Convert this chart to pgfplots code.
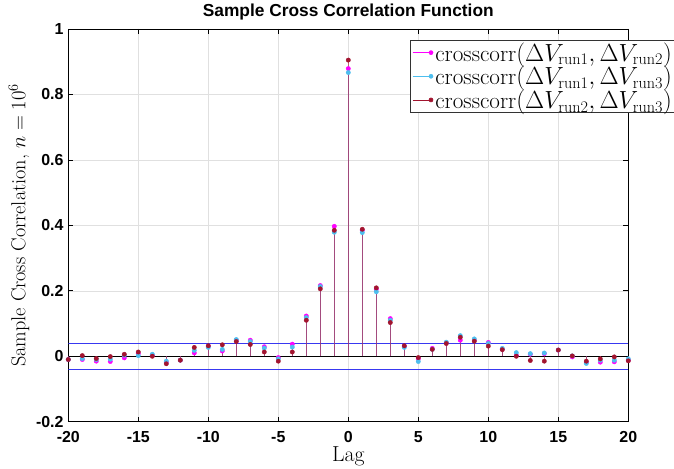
\documentclass[border=0pt]{standalone}
\usepackage{pgfplots}
\pgfplotsset{compat=1.18}
\usepackage{pgfplotstable}
\usepackage{fontspec}
\newfontfamily\hv{Liberation Sans}
\definecolor{mcol}{RGB}{255,0,255}
\definecolor{ccol}{RGB}{77,190,238}
\definecolor{dcol}{RGB}{162,20,47}
\definecolor{bndblue}{RGB}{45,45,240}

\pgfplotstableread{
lag m c d
-20 -0.010 -0.010 -0.010
-19 -0.010 -0.007 0.002
-18 -0.015 -0.010 -0.007
-17 -0.016 -0.009 -0.001
-16 -0.005 0.003 0.006
-15 0.008 0.002 0.013
-14 0.003 0.006 0.000
-13 -0.018 -0.015 -0.023
-12 -0.012 -0.012 -0.012
-11 0.010 0.018 0.027
-10 0.030 0.027 0.032
-9 0.016 0.021 0.035
-8 0.049 0.051 0.045
-7 0.049 0.045 0.036
-6 0.029 0.025 0.013
-5 -0.004 -0.008 -0.015
-4 0.037 0.028 0.013
-3 0.123 0.118 0.110
-2 0.216 0.213 0.206
-1 0.397 0.379 0.385
0 0.879 0.867 0.905
1 0.385 0.378 0.388
2 0.205 0.197 0.209
3 0.115 0.110 0.103
4 0.030 0.027 0.032
5 -0.008 -0.016 -0.004
6 0.024 0.021 0.021
7 0.041 0.043 0.039
8 0.049 0.063 0.058
9 0.049 0.053 0.046
10 0.042 0.039 0.031
11 0.022 0.024 0.020
12 0.003 0.011 0.000
13 0.006 0.008 -0.013
14 0.008 0.010 -0.015
15 0.019 0.019 0.019
16 -0.002 0.001 0.001
17 -0.018 -0.022 -0.015
18 -0.018 -0.012 -0.008
19 -0.017 -0.012 -0.002
20 -0.012 -0.008 -0.014
}\ccfdata

\pgfplotstableread{
x ylo yhi
-20 -0.04 0.04
20 -0.04 0.04
}\bounds

\begin{document}
\begin{tikzpicture}
\begin{axis}[
  at={(0,0)}, anchor=south west,
  scale only axis,
  width=560bp, height=392.7bp,
  xmin=-20, xmax=20, ymin=-0.2, ymax=1,
  xtick={-20,-15,-10,-5,0,5,10,15,20},
  xticklabels={-20,-15,-10,-5,0,5,10,15,20},
  ytick={-0.2,0,0.2,0.4,0.6,0.8,1},
  yticklabels={-0.2,0,0.2,0.4,0.6,0.8,1},
  tick label style={font=\hv\bfseries\fontsize{16}{19}\selectfont},
  xticklabel style={yshift=-6.3bp},
  yticklabel style={xshift=-1.3bp},
  grid=major,
  grid style={color=black!12, line width=0.6pt},
  tick align=inside,
  major tick length=5bp,
  tick style={black, line width=0.7pt},
  axis line style={black, line width=0.8pt},
  title={Sample Cross Correlation Function},
  title style={font=\hv\bfseries\fontsize{17.4}{20}\selectfont,
    at={(axis description cs:0.5,1)}, anchor=base, yshift=6.3bp},
  xlabel={Lag},
  ylabel={Sample Cross Correlation, $n=10^6$},
  xlabel style={font=\fontsize{21.8}{26}\selectfont,
    at={(axis description cs:0.5,-0.1026)}, anchor=base},
  ylabel style={font=\fontsize{20.3}{24}\selectfont,
    at={(axis description cs:-0.088,0.5)}, anchor=center},
  legend style={at={(0.610,0.972)}, anchor=north west,
    font=\fontsize{23.2}{27}\selectfont, draw=black!80, line width=0.6pt,
    inner xsep=2bp, inner ysep=2bp, row sep=3bp, fill=white,
    nodes={inner ysep=0.3bp}},
  legend cell align=left,
]
\addplot[draw=bndblue, draw opacity=0.95, line width=1.1pt, forget plot] table[x=x,y=yhi]{\bounds};
\addplot[draw=bndblue, draw opacity=0.95, line width=1.1pt, forget plot] table[x=x,y=ylo]{\bounds};
\addplot[draw=black, line width=0.9pt, forget plot] coordinates {(-20,0) (20,0)};
\addplot[ycomb, mcol, line width=1.3pt, draw opacity=0.5, forget plot] table[x=lag,y=m]{\ccfdata};
\addplot[ycomb, ccol, line width=1.3pt, draw opacity=0.5, forget plot] table[x=lag,y=c]{\ccfdata};
\addplot[ycomb, dcol, line width=1.3pt, draw opacity=0.6, forget plot] table[x=lag,y=d]{\ccfdata};
\addplot[only marks, mark=*, mark size=2.2pt, mcol,
  legend image code/.code={\draw[mcol, line width=0.8pt] (0bp,0bp) -- (18.4bp,0bp); \fill[mcol] (18.4bp,0bp) circle (2bp);}]
  table[x=lag,y=m]{\ccfdata};
\addlegendentry{crosscorr$(\Delta V_{\mathrm{run1}},\Delta V_{\mathrm{run2}})$}
\addplot[only marks, mark=*, mark size=2.2pt, ccol,
  legend image code/.code={\draw[ccol, line width=0.8pt] (0bp,0bp) -- (18.4bp,0bp); \fill[ccol] (18.4bp,0bp) circle (2bp);}]
  table[x=lag,y=c]{\ccfdata};
\addlegendentry{crosscorr$(\Delta V_{\mathrm{run1}},\Delta V_{\mathrm{run3}})$}
\addplot[only marks, mark=*, mark size=2.2pt, dcol,
  legend image code/.code={\draw[dcol, line width=0.8pt] (0bp,0bp) -- (18.4bp,0bp); \fill[dcol] (18.4bp,0bp) circle (2bp);}]
  table[x=lag,y=d]{\ccfdata};
\addlegendentry{crosscorr$(\Delta V_{\mathrm{run2}},\Delta V_{\mathrm{run3}})$}
\end{axis}
\pgfresetboundingbox
\useasboundingbox (-68.3bp,-47.3bp) rectangle (605.7bp,421.7bp);
\end{tikzpicture}
\end{document}
